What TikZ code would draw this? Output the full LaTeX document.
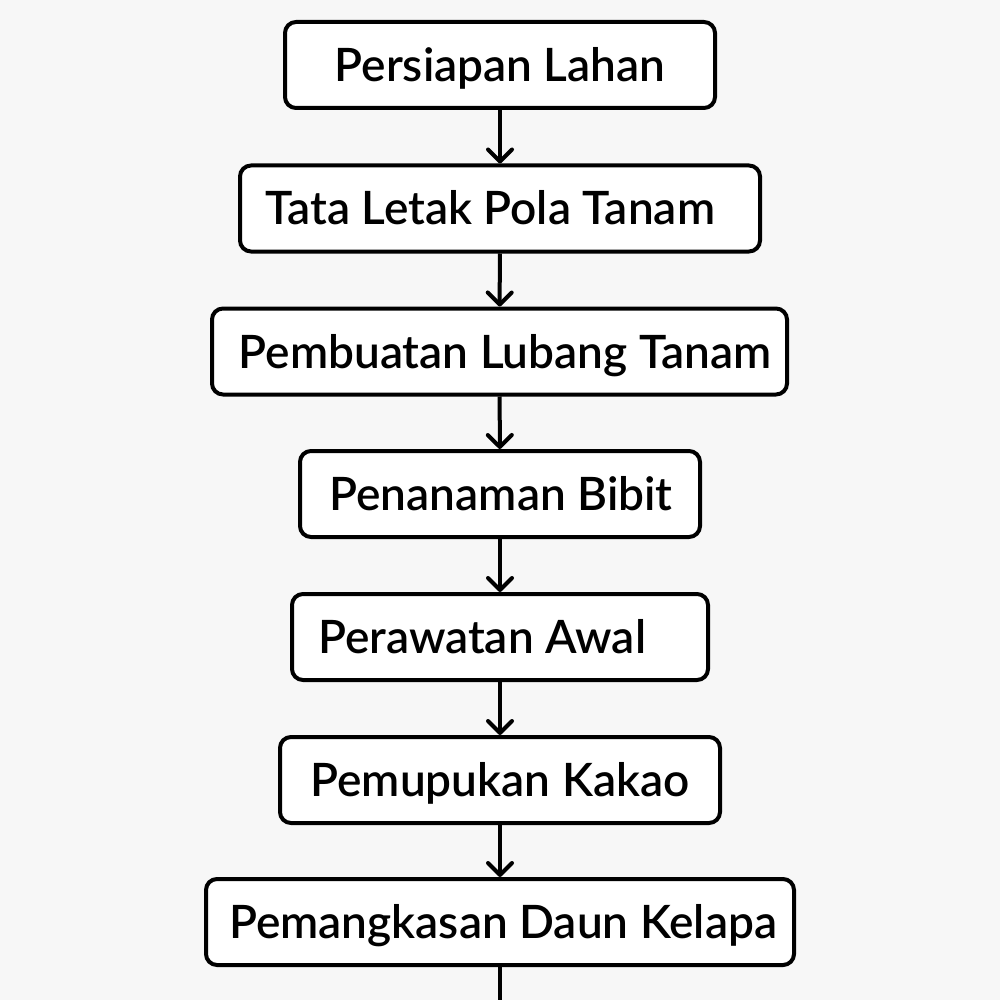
\documentclass[tikz,border=0pt]{standalone}
\usepackage{fontspec}
\setmainfont{Lato}[UprightFont=* Semibold]
\usetikzlibrary{arrows.meta,calc}
\definecolor{bgc}{HTML}{F7F7F7}
\tikzset{
  stepbox/.style={draw=black, fill=white, line width=2pt, rounded corners=5.5pt, inner sep=0pt},
  txt/.style={font=\fontsize{23}{27}\selectfont, inner sep=0pt, anchor=base},
  flow/.style={line width=2pt, -{Straight Barb[length=6pt,width=12pt,line width=2pt,round]}},
}
\begin{document}
\begin{tikzpicture}[x=0.5pt,y=-0.5pt]
\fill[bgc] (0,0) rectangle (1000,1000);
\useasboundingbox (0,0) rectangle (1000,1000);
\node[stepbox, minimum width=215pt, minimum height=43pt] (b1) at (500,65) {};
\node[stepbox, minimum width=260pt, minimum height=43pt] (b2) at (500,208.5) {};
\node[stepbox, minimum width=287.5pt, minimum height=43pt] (b3) at (499.5,351.5) {};
\node[stepbox, minimum width=200pt, minimum height=43pt] (b4) at (500,494) {};
\node[stepbox, minimum width=208pt, minimum height=43pt] (b5) at (500,637) {};
\node[stepbox, minimum width=220pt, minimum height=43pt] (b6) at (500,780) {};
\node[stepbox, minimum width=294pt, minimum height=43pt] (b7) at (500,922) {};
\node[txt] (t1) at (500,81.5) {Persiapan Lahan};
\node[txt] (t2) at (490,225) {Tata Letak Pola Tanam};
\node[txt] (t3) at (505,368) {Pembuatan Lubang Tanam};
\node[txt] (t4) at (501,510.5) {Penanaman Bibit};
\node[txt] (t5) at (482,653.5) {Perawatan Awal};
\node[txt] (t6) at (500,796.5) {Pemupukan Kakao};
\node[txt] (t7) at (503,938.5) {Pemangkasan Daun Kelapa};
\coordinate (end) at (500,1000);
\draw[flow] (b1) -- (b2);
\draw[flow] (b2) -- (b3);
\draw[flow] (b3) -- (b4);
\draw[flow] (b4) -- (b5);
\draw[flow] (b5) -- (b6);
\draw[flow] (b6) -- (b7);
\draw[line width=2pt] (b7.south) -- (end);
\end{tikzpicture}
\end{document}
